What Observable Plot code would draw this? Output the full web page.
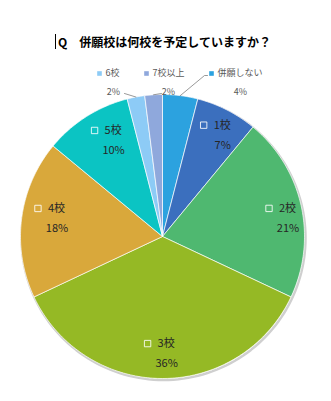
<!DOCTYPE html>
<html><head><meta charset="utf-8">
<script src="https://cdn.jsdelivr.net/npm/d3@7"></script>
<script src="https://cdn.jsdelivr.net/npm/@observablehq/plot@0.6"></script>
<style>
body{margin:0;background:#fff;font-family:"Noto Sans CJK JP",sans-serif;}
#wrap{position:relative;width:331px;height:401px;}
#title{position:absolute;left:55px;top:34px;border-left:1px solid #000;padding-left:2px;font-size:12px;font-weight:bold;line-height:15px;color:#000;white-space:nowrap;}
#chart{position:absolute;left:0;top:0;}
</style></head><body>
<div id="wrap"><div id="chart"></div><div id="title">Q　併願校は何校を予定していますか？</div></div>
<script>
// data (clockwise from 12 o'clock)
const categories = ["併願しない","1校","2校","3校","4校","5校","6校","7校以上"];
const values = [4, 7, 21, 36, 18, 10, 2, 2];
const colors = ["#2CA2DF","#3B6FBE","#4FB870","#95B925","#D9A83B","#0BC4C3","#8DCBF6","#8FA8DC"];
const outside = ["併願しない","6校","7校以上"];

// layout (pixel frame)
const W = 331, H = 401, CX = 162, CY = 236, R = 142;
const X = px => (px - CX) / R, Y = py => (CY - py) / R;
// inner label placement: radius fraction and angle nudge (degrees)
const innerLayout = {"1校": [0.83, 3.7], "2校": [0.893, 4.4], "3校": [0.825, -2], "4校": [0.754, 2.5], "5校": [0.759, 5.4]};

const total = d3.sum(values);
let acc = 0;
const slices = categories.map((c, i) => {
  const a0 = acc / total * 2 * Math.PI; acc += values[i];
  const a1 = acc / total * 2 * Math.PI;
  return {c, v: values[i], a0, a1, mid: (a0 + a1) / 2};
});
const polyPts = [];
for (const s of slices) {
  polyPts.push({c: s.c, x: 0, y: 0});
  const n = Math.max(2, Math.ceil((s.a1 - s.a0) / (Math.PI / 180)));
  for (let k = 0; k <= n; k++) {
    const a = s.a0 + (s.a1 - s.a0) * k / n;
    polyPts.push({c: s.c, x: Math.sin(a), y: Math.cos(a)});
  }
  polyPts.push({c: s.c, x: 0, y: 0});
}
const shadow = d3.range(0, 361, 2).map(d => ({x: Math.sin(d * Math.PI / 180), y: Math.cos(d * Math.PI / 180)}));

// inside labels
const inner = slices.filter(s => !outside.includes(s.c)).map(s => {
  const [rr, da] = innerLayout[s.c];
  const a = s.mid + da * Math.PI / 180;
  return {c: s.c, pct: s.v + "%", x: rr * Math.sin(a), y: rr * Math.cos(a)};
});
// outside labels layout
const outLayout = {
  "6校": {sq: [99, 73], pct: [113, 92], lead: [[124, 93]]},
  "7校以上": {sq: [146, 73], pct: [168, 92], lead: [[161, 93]]},
  "併願しない": {sq: [211, 73], pct: [240, 92], lead: [[204, 75], [207, 75]]}
};
const outer = slices.filter(s => outside.includes(s.c)).map(s => {
  const L = outLayout[s.c];
  return {c: s.c, pct: s.v + "%", sx: X(L.sq[0]), sy: Y(L.sq[1]), px: X(L.pct[0]), py: Y(L.pct[1]),
          lead: [{x: Math.sin(s.mid), y: Math.cos(s.mid)}, ...L.lead.map(p => ({x: X(p[0]), y: Y(p[1])}))]};
});
const leaders = outer.flatMap(o => o.lead.map(p => ({...p, c: o.c})));

const plot = Plot.plot({
  width: W, height: H, margin: 0, inset: 0,
  x: {domain: [X(0), X(W)], axis: null},
  y: {domain: [Y(H), Y(0)], axis: null},
  color: {domain: categories, range: colors},
  style: {fontFamily: "'Noto Sans CJK JP', sans-serif", background: "white"},
  marks: [
    Plot.line(shadow, {x: "x", y: "y", stroke: "#cfcfcf", strokeWidth: 2.5, dx: 1, dy: 1.5, curve: "linear"}),
    Plot.line(polyPts, {x: "x", y: "y", z: "c", fill: "c", stroke: "white", strokeWidth: 0.8, strokeOpacity: 0.85, curve: "linear"}),
    // inside labels
    Plot.dot(inner, {x: "x", y: "y", symbol: "square", r: 3.6, stroke: "white", strokeOpacity: 0.85, strokeWidth: 1, fill: "none", dx: -19, dy: -10}),
    Plot.text(inner, {x: "x", y: "y", text: "c", textAnchor: "start", dx: -9, dy: -10, fontSize: 11, fill: "#262626"}),
    Plot.text(inner, {x: "x", y: "y", text: "pct", dy: 10, fontSize: 11, fill: "#262626"}),
    // outside labels
    Plot.line(leaders, {x: "x", y: "y", z: "c", stroke: "#7f7f7f", strokeWidth: 0.8, curve: "linear"}),
    Plot.dot(outer, {x: "sx", y: "sy", fill: "c", symbol: "square", r: 2.6}),
    Plot.text(outer, {x: "sx", y: "sy", text: "c", textAnchor: "start", dx: 6, fontSize: 9, fill: "#595959"}),
    Plot.text(outer, {x: "px", y: "py", text: "pct", fontSize: 9, fill: "#595959"})
  ]
});
document.getElementById("chart").appendChild(plot);
</script>
</body></html>
